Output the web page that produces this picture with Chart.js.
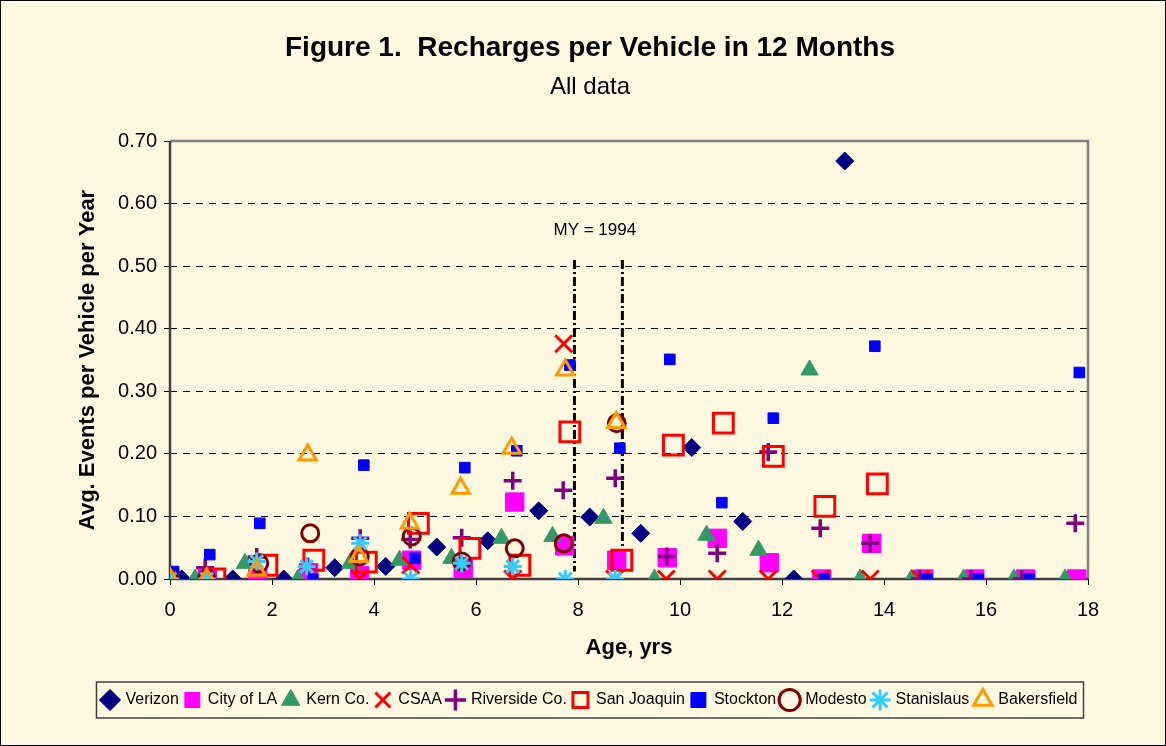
<!DOCTYPE html>
<html>
<head>
<meta charset="utf-8">
<script src="https://cdn.jsdelivr.net/npm/chart.js@4.4.1/dist/chart.umd.min.js"></script>
<style>
html, body { margin: 0; padding: 0; background: #FEF8E1; }
</style>
</head>
<body>
<canvas id="recargas" width="1166" height="746"></canvas>
<script>
// edades (x) y eventos por vehiculo (y)
const edadVerizon = [0.23, 1.23, 2.23, 3.23, 4.23, 5.23, 6.23, 7.23, 8.23, 9.23, 10.23, 11.23, 12.23, 13.23];
const verizon     = [0, 0, 0, 0.018, 0.02, 0.051, 0.061, 0.109, 0.099, 0.073, 0.21, 0.092, 0, 0.668];

const edadCityLA = [0, 0.73, 1.72, 2.72, 3.72, 4.74, 5.75, 6.76, 7.74, 8.76, 9.75, 10.73, 11.75, 12.78, 13.76, 14.78, 15.78, 16.78, 17.78];
const cityLA     = [0, 0, 0, 0.01, 0.005, 0.03, 0.017, 0.123, 0.053, 0.03, 0.034, 0.065, 0.026, 0, 0.057, 0, 0, 0, 0];

const edadKern = [0.49, 1.47, 2.51, 3.53, 4.5, 5.52, 6.5, 7.5, 8.5, 9.5, 10.52, 11.54, 12.54, 13.53, 14.54, 15.56, 16.55, 17.55];
const kern     = [0, 0.025, 0, 0.025, 0.03, 0.033, 0.065, 0.068, 0.097, 0, 0.07, 0.046, 0.334, 0, 0, 0, 0, 0];

const edadCSAA = [3.72, 4.72, 6.72, 7.72, 8.72, 9.73, 10.73, 11.73, 12.75, 13.73, 14.72];
const csaa     = [0, 0.022, 0, 0.376, 0, 0, 0, 0, 0, 0, 0];

const edadRiverside = [0.69, 1.7, 2.7, 3.73, 4.71, 5.72, 6.72, 7.71, 8.73, 9.74, 10.73, 11.73, 12.75, 13.73, 14.7, 15.7, 16.7, 17.75];
const riverside     = [0.018, 0.035, 0.02, 0.065, 0.063, 0.066, 0.157, 0.142, 0.161, 0.036, 0.041, 0.203, 0.081, 0.057, 0, 0, 0, 0.089];

const edadSanJoaquin = [0.88, 1.9, 2.82, 3.85, 4.87, 5.88, 6.86, 7.84, 8.86, 9.87, 10.85, 11.83, 12.84, 13.87];
const sanJoaquin     = [0, 0.022, 0.03, 0.027, 0.089, 0.049, 0.022, 0.235, 0.03, 0.214, 0.249, 0.196, 0.116, 0.152];

const edadStockton = [0.07, 0.78, 1.76, 2.8, 3.8, 4.8, 5.78, 6.8, 7.84, 8.82, 9.8, 10.82, 11.83, 12.83, 13.82, 14.85, 15.85, 16.85, 17.83];
const stockton     = [0.012, 0.039, 0.089, 0, 0.182, 0.033, 0.178, 0.205, 0.342, 0.209, 0.351, 0.122, 0.257, 0, 0.372, 0, 0, 0, 0.33];

const edadModesto = [0, 0.72, 1.75, 2.75, 3.72, 4.74, 5.72, 6.76, 7.72, 8.76];
const modesto     = [0, 0, 0.025, 0.073, 0.036, 0.068, 0.028, 0.049, 0.057, 0.249];

const edadStanislaus = [0, 0.72, 1.7, 2.68, 3.73, 4.72, 5.72, 6.72, 7.75, 8.73];
const stanislaus     = [0, 0, 0.028, 0.02, 0.057, 0, 0.025, 0.02, 0, 0];

const edadBakersfield = [0, 0.72, 1.7, 2.7, 3.7, 4.7, 5.7, 6.7, 7.75, 8.75];
const bakersfield     = [0, 0, 0.014, 0.198, 0.036, 0.089, 0.145, 0.209, 0.334, 0.25];

// lineas de MY = 1994
const lineasMY = [7.93, 8.87];
const lineaMYArriba = 0.51;
const lineaMYAbajo = 0.012;
const textoMY = 'MY = 1994';
const textoMYx = 8.33;
const textoMYy = 0.557;

const ticksX = [0, 2, 4, 6, 8, 10, 12, 14, 16, 18];
const ticksY = [0, 0.1, 0.2, 0.3, 0.4, 0.5, 0.6, 0.7];

const FONDO = '#FEF8E1';
const FUENTE = '"Liberation Sans", Arial, sans-serif';
Chart.defaults.font.family = FUENTE;
Chart.defaults.color = '#000';

const puntos = (edades, valores) => edades.map((x, i) => ({ x, y: valores[i] }));

const serie = (label, edades, valores, estilo, orden) => ({
    label,
    data: puntos(edades, valores),
    order: orden,
    pointHoverRadius: estilo.pointRadius,
    ...estilo
});

// fondo, marco del area de trazado, caja de la leyenda y texto MY
const marco = {
    id: 'marco',
    beforeDraw(chart) {
        const { ctx, width, height } = chart;
        ctx.save();
        ctx.fillStyle = FONDO;
        ctx.fillRect(0, 0, width, height);
        ctx.strokeStyle = '#000';
        ctx.lineWidth = 1;
        ctx.strokeRect(0.5, 0.5, width - 1, height - 1);
        ctx.restore();
    },
    beforeDatasetsDraw(chart) {
        const { ctx, chartArea: a } = chart;
        ctx.save();
        ctx.lineWidth = 2.5;
        ctx.strokeStyle = '#808080';
        ctx.beginPath();
        ctx.moveTo(a.left, a.top);
        ctx.lineTo(a.right, a.top);
        ctx.lineTo(a.right, a.bottom);
        ctx.stroke();
        ctx.strokeStyle = '#404040';
        ctx.beginPath();
        ctx.moveTo(a.left, a.top);
        ctx.lineTo(a.left, a.bottom);
        ctx.lineTo(a.right, a.bottom);
        ctx.stroke();

        const x = chart.scales.x.getPixelForValue(textoMYx);
        const y = chart.scales.y.getPixelForValue(textoMYy);
        ctx.fillStyle = '#000';
        ctx.font = '17px ' + FUENTE;
        ctx.textAlign = 'center';
        ctx.textBaseline = 'middle';
        ctx.fillText(textoMY, x, y);
        ctx.restore();
    },
    afterDraw(chart) {
        const leyenda = chart.legend;
        const cajas = leyenda.legendHitBoxes;
        if (!cajas || !cajas.length) return;
        const izq = Math.min(...cajas.map(c => c.left)) - 6;
        const der = Math.max(...cajas.map(c => c.left + c.width)) + 6;
        const arriba = cajas[0].top - 10;
        const abajo = cajas[0].top + cajas[0].height + 10;
        const { ctx } = chart;
        ctx.save();
        ctx.strokeStyle = '#404040';
        ctx.lineWidth = 1.5;
        ctx.strokeRect(izq, arriba, der - izq, abajo - arriba);
        ctx.restore();
    }
};

const datasets = [
    serie('Verizon', edadVerizon, verizon,
        { pointStyle: 'rectRot', pointRadius: 9, backgroundColor: '#000080', borderColor: '#000080', borderWidth: 1 }, 10),
    serie('City of LA', edadCityLA, cityLA,
        { pointStyle: 'rect', pointRadius: 13, backgroundColor: '#FF00FF', borderColor: '#FF00FF', borderWidth: 1 }, 9),
    serie('Kern Co.', edadKern, kern,
        { pointStyle: 'triangle', pointRadius: 10, backgroundColor: '#339966', borderColor: '#339966', borderWidth: 1 }, 8),
    serie('CSAA', edadCSAA, csaa,
        { pointStyle: 'crossRot', pointRadius: 12, backgroundColor: '#FF0000', borderColor: '#FF0000', borderWidth: 3 }, 7),
    serie('Riverside Co.', edadRiverside, riverside,
        { pointStyle: 'cross', pointRadius: 9, backgroundColor: '#800080', borderColor: '#800080', borderWidth: 3.5 }, 6),
    serie('San Joaquin', edadSanJoaquin, sanJoaquin,
        { pointStyle: 'rect', pointRadius: 14, backgroundColor: 'rgba(0,0,0,0)', borderColor: '#FF0000', borderWidth: 3 }, 5),
    serie('Stockton', edadStockton, stockton,
        { pointStyle: 'rect', pointRadius: 7.5, backgroundColor: '#0000FF', borderColor: '#0000FF', borderWidth: 1 }, 4),
    serie('Modesto', edadModesto, modesto,
        { pointStyle: 'circle', pointRadius: 8.5, backgroundColor: 'rgba(0,0,0,0)', borderColor: '#800000', borderWidth: 3 }, 3),
    serie('Stanislaus', edadStanislaus, stanislaus,
        { pointStyle: 'star', pointRadius: 9, backgroundColor: '#33CCFF', borderColor: '#33CCFF', borderWidth: 3 }, 2),
    serie('Bakersfield', edadBakersfield, bakersfield,
        { pointStyle: 'triangle', pointRadius: 10, backgroundColor: 'rgba(0,0,0,0)', borderColor: '#FF9900', borderWidth: 3 }, 1),
    ...lineasMY.map((x, i) => ({
        label: 'MY' + i,
        data: [{ x, y: lineaMYArriba }, { x, y: lineaMYAbajo }],
        showLine: true,
        pointRadius: 0,
        borderColor: '#000',
        borderWidth: 3,
        borderDash: [9, 3, 2, 3],
        order: 11
    }))
];

new Chart(document.querySelector('#recargas'), {
    type: 'scatter',
    data: { datasets },
    plugins: [marco],
    options: {
        responsive: false,
        animation: false,
        layout: { padding: { left: 14, right: 0, top: 0, bottom: 28 } },
        plugins: {
            title: {
                display: true,
                text: 'Figure 1.  Recharges per Vehicle in 12 Months',
                color: '#000',
                font: { size: 28, weight: 'bold' },
                padding: { top: 31, bottom: 3 }
            },
            subtitle: {
                display: true,
                text: 'All data',
                color: '#000',
                font: { size: 24 },
                padding: { top: 5, bottom: 39.6 }
            },
            legend: {
                position: 'bottom',
                labels: {
                    usePointStyle: true,
                    boxWidth: 15,
                    boxHeight: 15,
                    padding: 6,
                    color: '#000',
                    font: { size: 16 },
                    filter: item => item.datasetIndex < 10,
                    sort: (a, b) => a.datasetIndex - b.datasetIndex
                }
            },
            tooltip: { enabled: false }
        },
        scales: {
            x: {
                type: 'linear',
                min: 0,
                max: 18,
                afterBuildTicks: s => { s.ticks = ticksX.map(value => ({ value })); },
                afterFit: s => { s.height = 107; },
                ticks: { font: { size: 20 }, padding: 13, color: '#000' },
                grid: { drawOnChartArea: false, drawTicks: true, tickLength: 6, tickColor: '#000', color: '#000' },
                border: { display: false },
                title: {
                    display: true,
                    text: 'Age, yrs',
                    color: '#000',
                    font: { size: 22, weight: 'bold' },
                    padding: { top: 4, bottom: 24.8 }
                }
            },
            y: {
                type: 'linear',
                min: 0,
                max: 0.7,
                afterBuildTicks: s => { s.ticks = ticksY.map(value => ({ value })); },
                afterFit: s => { s.width = 156; },
                ticks: { font: { size: 20 }, padding: 7, color: '#000', callback: v => v.toFixed(2) },
                grid: {
                    color: c => (c.tick && c.tick.value > 0.001 && c.tick.value < 0.69) ? '#000' : 'rgba(0,0,0,0)',
                    tickColor: '#000',
                    tickLength: 6,
                    lineWidth: 1,
                    tickBorderDash: []
                },
                border: { display: false, dash: [7, 6] },
                title: {
                    display: true,
                    text: 'Avg. Events per Vehicle per Year',
                    color: '#000',
                    font: { size: 22, weight: 'bold' },
                    padding: { top: 61, bottom: 0 }
                }
            },
            derecha: {
                type: 'linear',
                position: 'right',
                display: true,
                afterFit: s => { s.width = 78; },
                ticks: { display: false },
                grid: { display: false, drawTicks: false },
                border: { display: false }
            }
        }
    }
});
</script>
</body>
</html>
